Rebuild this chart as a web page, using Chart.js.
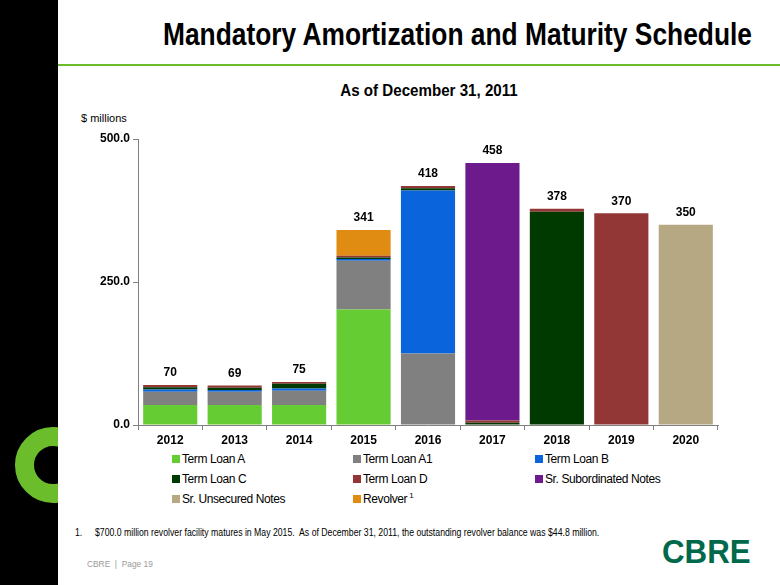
<!DOCTYPE html>
<html>
<head>
<meta charset="utf-8">
<script src="https://cdn.jsdelivr.net/npm/chart.js@4.4.1/dist/chart.umd.min.js"></script>
<style>
  html, body { margin: 0; padding: 0; background: #fff; }
  body { width: 780px; height: 585px; position: relative; overflow: hidden; font-family: "Liberation Sans", Arial, sans-serif; }
  #strip { position: absolute; left: 0; top: 0; width: 58px; height: 585px; background: #000; overflow: hidden; }
  #ring { position: absolute; left: 15px; top: 427px; width: 38px; height: 38px; border: 19px solid #6cbd2c; border-radius: 50%; }
  #title { position: absolute; right: 28px; top: 17px; font: bold 31px "Liberation Sans", Arial, sans-serif; color: #000; white-space: nowrap; transform: scaleX(0.85); transform-origin: right top; }
  #rule { position: absolute; left: 58px; top: 64px; width: 722px; height: 2px; background: #6cbd2c; }
  #subtitle { position: absolute; left: 0; width: 858px; top: 81px; text-align: center; font: bold 17px "Liberation Sans", Arial, sans-serif; color: #000; transform: scaleX(0.89); transform-origin: 429px 0; }
  #units { position: absolute; left: 81px; top: 112px; font-size: 11px; color: #000; }
  #wrap { position: absolute; left: 60px; top: 120px; width: 680px; height: 330px; }
  #legend { position: absolute; left: 172px; top: 452px; display: grid; grid-template-columns: 181px 182px 200px; row-gap: 6px; font-size: 12px; letter-spacing: -0.4px; color: #000; }
  #legend div { display: flex; align-items: center; white-space: nowrap; height: 14px; }
  #legend span.sw { width: 8px; height: 8px; margin-right: 2px; display: inline-block; }
  #legend sup { font-size: 8px; margin-left: 2px; align-self: flex-start; line-height: 8px; }
  #note { position: absolute; left: 75px; top: 527px; font: 10px "Liberation Sans", Arial, sans-serif; color: #000; white-space: nowrap; transform: scaleX(0.87); transform-origin: left top; }
  #note b { font-weight: normal; display: inline-block; width: 23px; }
  #logo { position: absolute; left: 662px; top: 532px; font: bold 34px "Liberation Sans", Arial, sans-serif; color: #00694b; transform: scaleX(0.92); transform-origin: left top; }
  #page { position: absolute; left: 87px; top: 558px; font: 9.5px "Liberation Sans", Arial, sans-serif; color: #9a9a9a; transform: scaleX(0.88); transform-origin: left top; }
</style>
</head>
<body>
<div id="strip"><div id="ring"></div></div>
<div id="title">Mandatory Amortization and Maturity Schedule</div>
<div id="rule"></div>
<div id="subtitle">As of December 31, 2011</div>
<div id="units">$ millions</div>
<div id="wrap"><canvas id="chart"></canvas></div>
<div id="legend"></div>
<div id="note"><b>1.</b>$700.0 million revolver facility matures in May 2015.&nbsp; As of December 31, 2011, the outstanding revolver balance was $44.8 million.</div>
<div id="logo">CBRE</div>
<div id="page">CBRE &nbsp;|&nbsp; Page 19</div>

<script>
// datos ($ millions)
const years = ['2012', '2013', '2014', '2015', '2016', '2017', '2018', '2019', '2020'];
const termLoanA = [35, 35, 35, 202, 0, 0, 0, 0, 0];
const termLoanA1 = [23, 23, 25, 85, 125, 0, 0, 0, 0];
const termLoanB = [4, 3, 4, 3, 285, 0, 0, 0, 0];
const termLoanC = [4, 4, 8, 3, 4, 4, 373, 0, 0];
const termLoanD = [4, 4, 3, 3, 4, 4, 5, 370, 0];
const srSubordinated = [0, 0, 0, 0, 0, 450, 0, 0, 0];
const srUnsecured = [0, 0, 0, 0, 0, 0, 0, 0, 350];
const revolver = [0, 0, 0, 45, 0, 0, 0, 0, 0];
const yTicks = [0, 250, 500];

const seriesNames = ['Term Loan A', 'Term Loan A1', 'Term Loan B', 'Term Loan C', 'Term Loan D', 'Sr. Subordinated Notes', 'Sr. Unsecured Notes', 'Revolver'];
const seriesData = [termLoanA, termLoanA1, termLoanB, termLoanC, termLoanD, srSubordinated, srUnsecured, revolver];
const seriesColors = ['#66cc33', '#808080', '#0a64dc', '#003a00', '#933636', '#6c1a8c', '#b6a883', '#e08c12'];

// etiquetas de total sobre cada barra
const totalsPlugin = {
    id: 'totals',
    afterDatasetsDraw(chart) {
        const ctx = chart.ctx;
        const yScale = chart.scales.y;
        const meta = chart.getDatasetMeta(0);
        ctx.save();
        ctx.font = 'bold 12px "Liberation Sans", Arial, sans-serif';
        ctx.fillStyle = '#000';
        ctx.textAlign = 'center';
        ctx.textBaseline = 'middle';
        years.forEach((y, i) => {
            const total = seriesData.reduce((s, arr) => s + arr[i], 0);
            ctx.fillText(String(Math.round(total)), meta.data[i].x, yScale.getPixelForValue(total) - 12);
        });
        ctx.restore();
    }
};

const tickFont = { size: 12, weight: 'bold', family: '"Liberation Sans", Arial, sans-serif' };

const ctxBar = document.getElementById('chart');
const chart = new Chart(ctxBar, {
    type: 'bar',
    data: {
        labels: years,
        datasets: seriesNames.map((name, k) => ({
            label: name,
            data: seriesData[k],
            backgroundColor: seriesColors[k],
            borderWidth: 0,
            categoryPercentage: 1.0,
            barPercentage: 0.84
        }))
    },
    options: {
        responsive: true,
        maintainAspectRatio: false,
        animation: false,
        layout: { padding: { top: 19, right: 22, left: 0, bottom: 0 } },
        plugins: {
            legend: { display: false },
            tooltip: { enabled: false }
        },
        scales: {
            x: {
                stacked: true,
                grid: { display: true, offset: true, drawOnChartArea: false, drawTicks: true, tickLength: 5, color: '#808080' },
                border: { color: '#808080', width: 1 },
                ticks: { color: '#000', font: tickFont, padding: 3 },
                afterFit: (scale) => { scale.height = 25; }
            },
            y: {
                stacked: true,
                min: yTicks[0],
                max: yTicks[yTicks.length - 1],
                afterBuildTicks: (scale) => { scale.ticks = yTicks.map(v => ({ value: v })); },
                grid: { display: true, drawOnChartArea: false, drawTicks: true, tickLength: 5, color: '#808080' },
                border: { color: '#808080', width: 1 },
                ticks: {
                    color: '#000',
                    font: tickFont,
                    padding: 3,
                    callback: (v) => Number(v).toFixed(1)
                },
                afterFit: (scale) => { scale.width = 78; }
            }
        }
    },
    plugins: [totalsPlugin]
});

// leyenda en tres columnas
const legendBox = document.getElementById('legend');
chart.data.datasets.forEach((ds) => {
    const item = document.createElement('div');
    item.innerHTML = '<span class="sw" style="background:' + ds.backgroundColor + '"></span>' + ds.label + (ds.label === 'Revolver' ? '<sup>1</sup>' : '');
    legendBox.appendChild(item);
});
</script>
</body>
</html>
